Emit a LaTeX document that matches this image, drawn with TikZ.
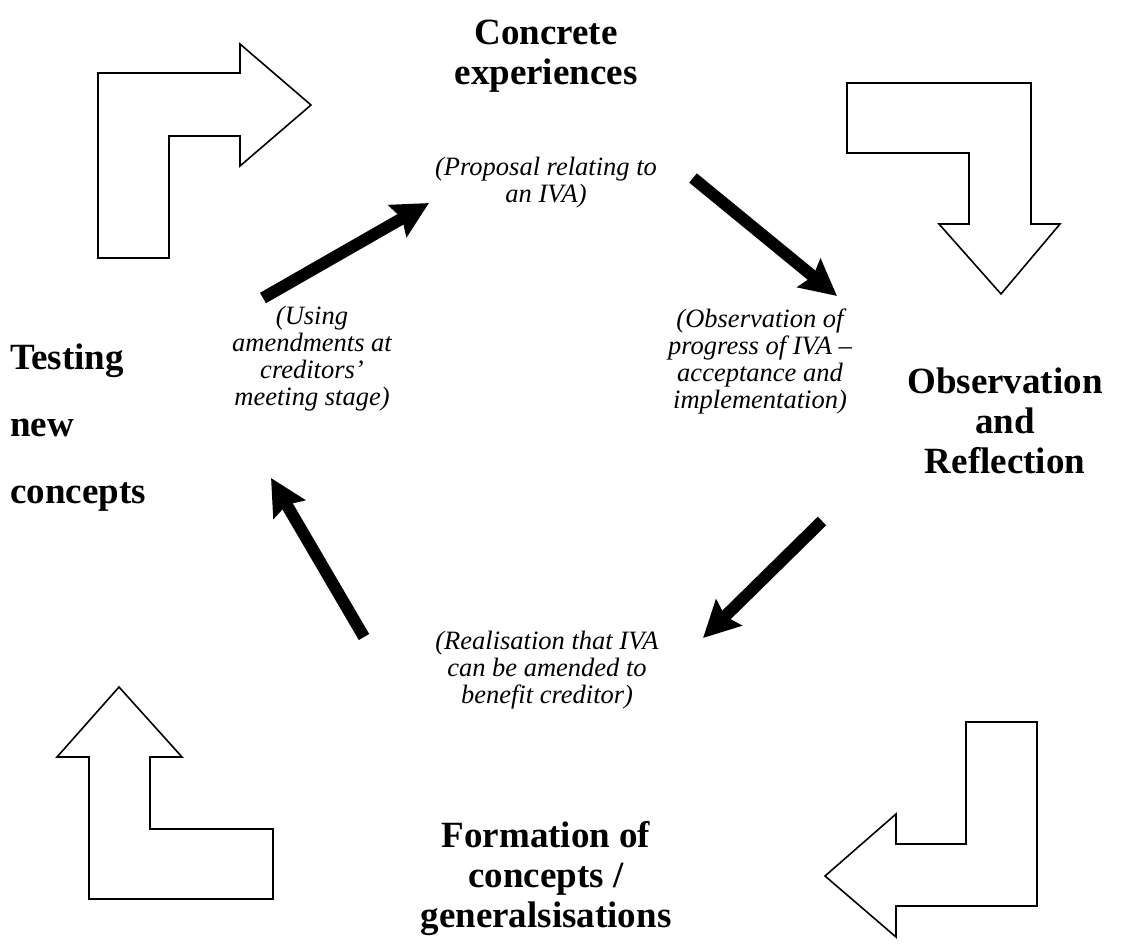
\documentclass[tikz,border=0pt]{standalone}
\usepackage{fontspec}
\setmainfont{Liberation Serif}
\usetikzlibrary{arrows.meta}

\tikzset{
  bendarrow/.style={draw=black, line width=1.6pt, fill=white, line join=miter},
  cyclearrow/.style={line width=12pt, -{Stealth[length=36pt, width=36pt, inset=5pt]}},
  stagetext/.style={font=\bfseries\fontsize{37}{40}\selectfont, align=center, inner sep=0pt},
  notetext/.style={font=\itshape\fontsize{26.5}{27}\selectfont, align=center, inner sep=0pt},
}

\begin{document}
\begin{tikzpicture}[x=1pt, y=-1pt]
  \useasboundingbox (0,0) rectangle (1126,945);

  % bent outline arrows in the four corners
  \draw[bendarrow] (98,258) -- (98,73) -- (240,73) -- (240,44) -- (311,105)
    -- (240,166) -- (240,136) -- (169,136) -- (169,258) -- cycle;
  \draw[bendarrow] (847,83) -- (1031,83) -- (1031,224) -- (1060,224) -- (1001,294)
    -- (939,224) -- (969,224) -- (969,153) -- (847,153) -- cycle;
  \draw[bendarrow] (966,722) -- (1037,722) -- (1037,906) -- (896,906) -- (896,937)
    -- (825,876) -- (896,814) -- (896,844) -- (966,844) -- cycle;
  \draw[bendarrow] (89,899) -- (89,757) -- (57,757) -- (119,687) -- (182,757)
    -- (150,757) -- (150,829) -- (273,829) -- (273,899) -- cycle;

  % stage titles
  \node[stagetext] (concrete) at (546,56) {Concrete\\experiences};
  \node[stagetext] (observe) at (1005,421) {Observation\\and\\Reflection};
  \node[stagetext] (form) at (546,879) {Formation of\\concepts /\\generalsisations};
  \node[stagetext, align=left, anchor=west,
        font=\bfseries\fontsize{37}{67}\selectfont] (testing) at (10,428)
        {Testing\\new\\concepts};

  % notes on each stage
  \node[notetext] (proposal) at (546,183) {(Proposal relating to\\an IVA)};
  \node[notetext] (progress) at (760,361) {(Observation of\\progress of IVA --\\acceptance and\\implementation)};
  \node[notetext] (realise) at (547,670) {(Realisation that IVA\\can be amended to\\benefit creditor)};
  \node[notetext] (using) at (312,359) {(Using\\amendments at\\creditors'\\meeting stage)};

  % ends of the cycle arrows
  \coordinate (a1s) at (263,298);  \coordinate (a1e) at (429,203);
  \coordinate (a2s) at (693,178);  \coordinate (a2e) at (837,296);
  \coordinate (a3s) at (822,521);  \coordinate (a3e) at (703,638);
  \coordinate (a4s) at (364,637);  \coordinate (a4e) at (271,478);

  \draw[cyclearrow] (a1s) -- (a1e);
  \draw[cyclearrow] (a2s) -- (a2e);
  \draw[cyclearrow] (a3s) -- (a3e);
  \draw[cyclearrow] (a4s) -- (a4e);
\end{tikzpicture}
\end{document}
